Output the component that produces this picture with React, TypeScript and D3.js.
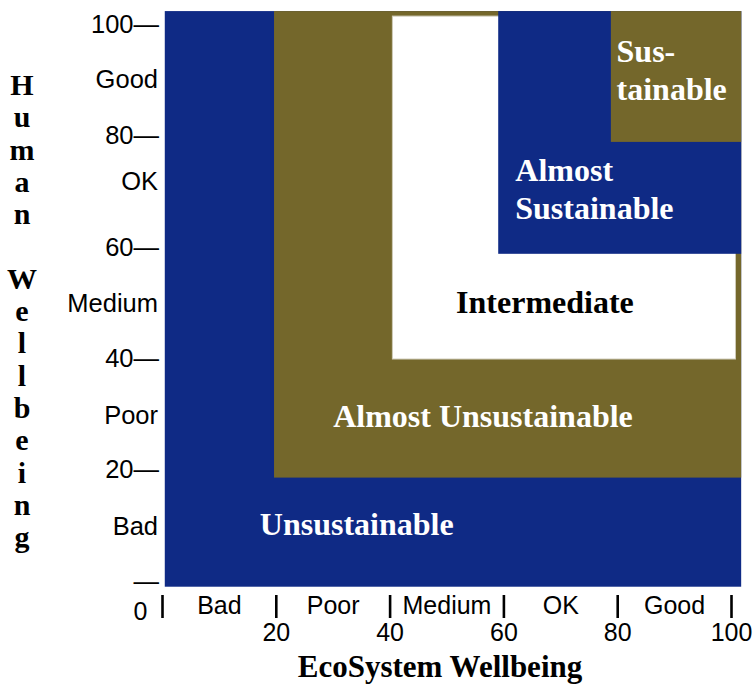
import React from "react";
import * as d3 from "d3";

const W = 754;
const H = 685;

// Regions (data units on both axes, 0-100 scale)
const regionNames = ["Unsustainable", "Almost Unsustainable", "Intermediate", "Almost Sustainable", "Sustainable"];
const regionX0 = [0.4, 19.6, 40.4, 59.0, 78.8];
const regionX1 = [101.7, 101.7, 100.7, 101.7, 101.7];
const regionY0 = [-0.9, 18.7, 40.0, 58.9, 79.0];
const regionY1 = [102.5, 102.5, 101.6, 102.5, 102.5];
const regionFill = ["#0f2a85", "#74672b", "#ffffff", "#0f2a85", "#74672b"];
const regionTextColor = ["#ffffff", "#ffffff", "#000000", "#ffffff", "#ffffff"];
const regionLines = [["Unsustainable"], ["Almost Unsustainable"], ["Intermediate"], ["Almost", "Sustainable"], ["Sus-", "tainable"]];
const regionLabelX = [17.1, 30.0, 51.6, 62.0, 79.8];
const regionLabelY = [8.4, 27.8, 48.3, 71.9, 93.3];

// Axes
const xTickValues = [0, 20, 40, 60, 80, 100];
const yTickValues = [0, 20, 40, 60, 80, 100];
const xCategoryLabels = ["Bad", "Poor", "Medium", "OK", "Good"];
const xCategoryPos = [10, 30, 50, 70, 90];
const yCategoryLabels = ["Bad", "Poor", "Medium", "OK", "Good"];
const yCategoryPos = [10, 30, 50, 72, 90.3];
const xTitle = "EcoSystem Wellbeing";
const yTitleLetters = ["H", "u", "m", "a", "n", "", "W", "e", "l", "l", "b", "e", "i", "n", "g"];

const x = d3.scaleLinear().domain([0, 100]).range([162.5, 731.5]);
const y = d3.scaleLinear().domain([0, 100]).range([581.7, 25]);

const SANS = "'Liberation Sans', Arial, sans-serif";
const SERIF = "'Liberation Serif', 'Times New Roman', serif";

export default function App() {
  return (
    <svg
      width={W}
      height={H}
      viewBox={`0 0 ${W} ${H}`}
      style={{ position: "absolute", left: 0, top: 0, background: "#ffffff" }}
    >
      {/* regions */}
      {regionNames.map((n, i) => (
        <rect
          key={n}
          x={x(regionX0[i])}
          y={y(regionY1[i])}
          width={x(regionX1[i]) - x(regionX0[i])}
          height={y(regionY0[i]) - y(regionY1[i])}
          fill={regionFill[i]}
          stroke={regionFill[i] === "#ffffff" ? "#cfcbb8" : "none"}
          strokeWidth={1}
        />
      ))}
      {/* region labels */}
      {regionNames.map((n, i) => (
        <text
          key={"t" + n}
          x={x(regionLabelX[i])}
          y={y(regionLabelY[i])}
          fill={regionTextColor[i]}
          fontFamily={SERIF}
          fontWeight="bold"
          fontSize={32}
        >
          {regionLines[i].map((l, j) => (
            <tspan key={j} x={x(regionLabelX[i])} dy={j === 0 ? 0 : 38}>
              {l}
            </tspan>
          ))}
        </text>
      ))}

      {/* y axis tick labels with dashes */}
      {yTickValues.map((v) => (
        <text
          key={"yt" + v}
          x={159}
          y={y(v) + 8}
          textAnchor="end"
          fontFamily={SANS}
          fontSize={25.5}
          fill="#000"
        >
          {(v === 0 ? "" : String(v)) + "\u2014"}
        </text>
      ))}
      {yCategoryLabels.map((l, i) => (
        <text
          key={"yc" + l}
          x={158}
          y={y(yCategoryPos[i]) + 9}
          textAnchor="end"
          fontFamily={SANS}
          fontSize={25.5}
          fill="#000"
        >
          {l}
        </text>
      ))}

      {/* x axis bars */}
      {xTickValues.map((v) => (
        <line key={"xb" + v} x1={x(v)} x2={x(v)} y1={595} y2={618} stroke="#000" strokeWidth={2.6} />
      ))}
      {xTickValues.map((v) => (
        <text
          key={"xt" + v}
          x={v === 0 ? x(v) - 22 : x(v)}
          y={v === 0 ? 620 : 641}
          textAnchor="middle"
          fontFamily={SANS}
          fontSize={25}
          fill="#000"
        >
          {v}
        </text>
      ))}
      {xCategoryLabels.map((l, i) => (
        <text
          key={"xc" + l}
          x={x(xCategoryPos[i])}
          y={614}
          textAnchor="middle"
          fontFamily={SANS}
          fontSize={25}
          fill="#000"
        >
          {l}
        </text>
      ))}

      {/* axis titles */}
      <text x={440} y={677} textAnchor="middle" fontFamily={SERIF} fontWeight="bold" fontSize={31} fill="#000">
        {xTitle}
      </text>
      <text fontFamily={SERIF} fontWeight="bold" fontSize={30} fill="#000" textAnchor="middle">
        {yTitleLetters.map((c, i) => (
          <tspan key={i} x={22} y={95 + i * 32.3}>
            {c === "" ? "\u00a0" : c}
          </tspan>
        ))}
      </text>
    </svg>
  );
}
